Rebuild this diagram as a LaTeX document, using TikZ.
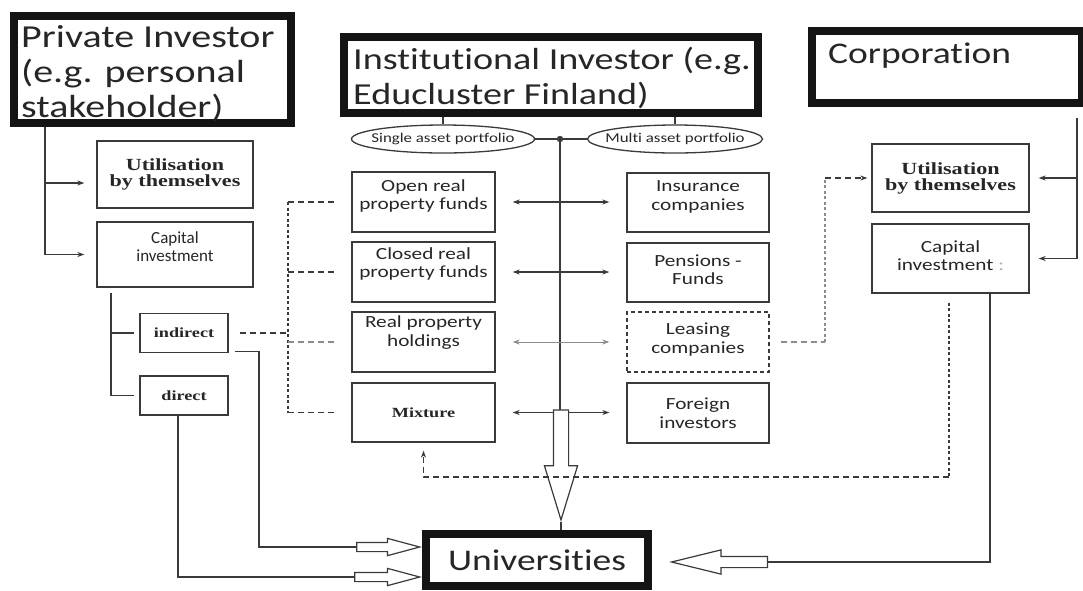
\documentclass[tikz,border=0pt]{standalone}
\usepackage{fontspec}
\setmainfont{Carlito}[Ligatures=NoCommon]
\newfontfamily\widesans{Carlito}[FakeStretch=1.25,Ligatures=NoCommon]
\newfontfamily\wideserif{Liberation Serif}[FakeStretch=1.3,Ligatures=NoCommon]
\usetikzlibrary{arrows.meta,shapes.geometric,shapes.arrows}
\definecolor{ink}{HTML}{262626}
\definecolor{rule}{HTML}{3A3A3A}
\definecolor{faint}{HTML}{8C8C8C}

\begin{document}
\begin{tikzpicture}[x=1pt,y=-1pt,
  heavybox/.style={draw=black!92, line width=8pt, inner sep=0pt, outer sep=4pt},
  headtext/.style={anchor=north west, inner sep=0pt, align=left, text=ink,
    font=\widesans\fontsize{#1}{35}\selectfont},
  plainbox/.style={draw=rule, line width=1.3pt, inner sep=0pt, align=center, text=ink,
    font=\widesans\fontsize{17}{18.5}\selectfont},
  serifbox/.style={plainbox, font=\wideserif\bfseries\fontsize{17}{16}\selectfont},
  smallserif/.style={plainbox, font=\wideserif\bfseries\fontsize{14}{16}\selectfont},
  pill/.style={ellipse, draw=rule, line width=1.3pt, inner sep=0pt, text=ink,
    font=\widesans\fontsize{13.5}{15}\selectfont},
  conn/.style={draw=rule, line width=1.3pt},
  arrowed/.style={conn, -{Stealth[length=7pt,width=5pt]}},
  twoway/.style={conn, {Stealth[length=7pt,width=5pt]}-{Stealth[length=7pt,width=5pt]},
    shorten <=17pt, shorten >=17pt},
  dashline/.style={draw=rule, line width=1.3pt, dash pattern=on 6pt off 4pt},
  dotline/.style={draw=rule, line width=1.6pt, dash pattern=on 3pt off 2.5pt},
  hollow/.style={single arrow, draw=rule, line width=1.2pt, fill=white, inner sep=0pt, anchor=tip}
]
\useasboundingbox (0,0) rectangle (1083,590);

% ---- investor headers ----
\node[heavybox, minimum width=277, minimum height=107] (priv) at (152.5,69.5) {};
\node[headtext=32] (privtxt) at (21,25) {Private Investor\\(e.g. personal\\stakeholder)};

\node[heavybox, minimum width=414, minimum height=76] (inst) at (551,75) {};
\node[headtext=30.5] (insttxt) at (353,47) {Institutional Investor (e.g.\\Educluster Finland)};

\node[heavybox, minimum width=270, minimum height=72] (corp) at (947,67) {};
\node[headtext=30] (corptxt) at (828,43) {Corporation};

\node[heavybox, minimum width=222, minimum height=52, text=ink,
      font=\widesans\fontsize{30}{34}\selectfont] (univ) at (537,560) {Universities};

% ---- portfolio types ----
\node[pill, minimum width=183, minimum height=28] (single) at (443,139) {\makebox[0pt]{Single asset portfolio}};
\node[pill, minimum width=175, minimum height=28] (multi) at (675,139) {\makebox[0pt]{Multi asset portfolio}};
\draw[conn] (inst.south -| single.north) -- (single.north);
\draw[conn] (inst.south -| multi.north) -- (multi.north);
\coordinate (hub) at (560,139);
\draw[conn] (single.east) -- (hub) -- (multi.west);
\fill[rule] (hub) circle (3.2pt);

% ---- fund types (left) and investor types (right) ----
\node[plainbox, minimum width=143, minimum height=60, text depth=15pt] (open) at (423.5,202) {Open real\\property funds};
\node[plainbox, minimum width=143, minimum height=60, text depth=19pt] (closed) at (423.5,272) {Closed real\\property funds};
\node[plainbox, minimum width=143, minimum height=60, text depth=22pt] (holdings) at (423.5,342) {Real property\\holdings};
\node[smallserif, minimum width=143, minimum height=59] (mixture) at (423.5,412.5) {Mixture};

\node[plainbox, minimum width=142, minimum height=59, text depth=14pt] (insur) at (698,202.5) {Insurance\\companies};
\node[plainbox, minimum width=142, minimum height=59, text depth=6pt] (pens) at (698,272.5) {Pensions -\\Funds};
\node[plainbox, minimum width=142, minimum height=60, text depth=8pt, dash pattern=on 4pt off 3pt] (leasing) at (698,342) {Leasing\\companies};
\node[plainbox, minimum width=142, minimum height=60] (foreign) at (698,413) {Foreign\\investors};

\draw[conn] (hub) -- (hub |- mixture);
\draw[twoway] (open.east) -- (open.east -| insur.west);
\draw[twoway] (closed.east) -- (closed.east -| pens.west);
\draw[twoway, draw=faint, line width=1pt] (holdings.east) -- (holdings.east -| leasing.west);
\draw[twoway] (mixture.east) -- (mixture.east -| foreign.west);

% ---- private investor branch ----
\node[serifbox, minimum width=156, minimum height=67] (utilL) at (175,174.5) {Utilisation\\by themselves};
\node[plainbox, minimum width=156, minimum height=65, text depth=16pt,
      font=\fontsize{17}{18.5}\selectfont] (capL) at (175,254.5) {Capital\\investment};
\node[smallserif, minimum width=88, minimum height=39] (indirect) at (184,333) {indirect};
\node[smallserif, minimum width=88, minimum height=39] (direct) at (184,395.5) {direct};

\coordinate (privtrunk) at (45,127);
\coordinate (privutil) at (45,183);
\draw[arrowed, shorten >=12pt] (privtrunk) |- (capL.west);
\draw[arrowed, shorten >=12pt] (privutil) -- (privutil -| utilL.west);

\coordinate (captrunk) at (111,293);
\draw[conn, shorten >=5pt] (captrunk) |- (direct.west);
\draw[conn, shorten >=5pt] (captrunk |- indirect) -- (indirect.west);

% indirect investment feeds the fund types
\coordinate (fundtop) at (288,202);
\coordinate (fundbot) at (288,412.5);
\draw[dashline, shorten <=11pt] (indirect.east) -- (indirect -| fundtop);
\draw[dotline] (fundtop) -- (fundbot);
\draw[dashline, shorten >=17pt] (fundtop) -- (open.west);
\draw[dashline, shorten >=17pt] (fundtop |- closed) -- (closed.west);
\draw[dashline, draw=faint, shorten >=17pt] (fundtop |- holdings) -- (holdings.west);
\draw[dashline, shorten >=17pt] (fundbot) -- (mixture.west);

% ---- corporation branch ----
\node[serifbox, minimum width=157, minimum height=68] (utilR) at (950.5,178) {Utilisation\\by themselves};
\node[plainbox, minimum width=157, minimum height=69, text depth=6pt] (capR) at (950.5,258.5) {Capital\\investment {\color{black!30}:}};

\coordinate (corptrunk) at (1077,118);
\draw[arrowed, shorten >=9pt] (corptrunk) |- (capR.east);
\draw[arrowed, shorten >=9pt] (corptrunk |- utilR) -- (utilR.east);

\coordinate (leasefeed) at (825,342);
\draw[dashline, draw=faint, shorten <=11pt] (leasing.east) -- (leasefeed);
\draw[dotline, draw=faint] (leasefeed) -- (leasefeed |- utilR);
\draw[dashline, -{Stealth[length=7pt,width=5pt]}, shorten >=4pt] (leasefeed |- utilR) -- (utilR.west);

% ---- flows into the universities ----
\coordinate (droptip) at (561,522);
\node[hollow, rotate=-90, minimum height=110, inner ysep=7pt,
      single arrow head extend=9pt, single arrow tip angle=34] (downarrow) at (droptip) {};
\draw[conn] (downarrow.tip) -- (downarrow.tip |- univ.north);

\coordinate (mixfeed) at (949,477);
\draw[dotline] (capR.south -| mixfeed) ++(0,9) -- (mixfeed);
\draw[dashline, -{Stealth[length=7pt,width=5pt]}, shorten >=8pt] (mixfeed) -| (mixture.south);

\coordinate (bendA) at (259,547);
\node[hollow, minimum height=63, inner ysep=4pt, single arrow head extend=4pt,
      single arrow tip angle=30] (arrowA) at (univ.west |- bendA) {};
\draw[conn] ([xshift=6pt,yshift=2pt]indirect.south east) -| (bendA) -- (arrowA.tail);

\coordinate (bendB) at (178,577);
\node[hollow, minimum height=65, inner ysep=4pt, single arrow head extend=4pt,
      single arrow tip angle=30] (arrowB) at (univ.west |- bendB) {};
\draw[conn] (bendB |- direct.south) -- (bendB) -- (arrowB.tail);

\coordinate (bendR) at (990,562);
\node[hollow, shape border rotate=180, minimum height=96, inner ysep=5pt,
      single arrow head extend=6.5pt, single arrow tip angle=27.5, xshift=17pt] (arrowR) at (univ.east |- bendR) {};
\draw[conn] (capR.south -| bendR) -- (bendR) -- (arrowR.tail);

\end{tikzpicture}
\end{document}
